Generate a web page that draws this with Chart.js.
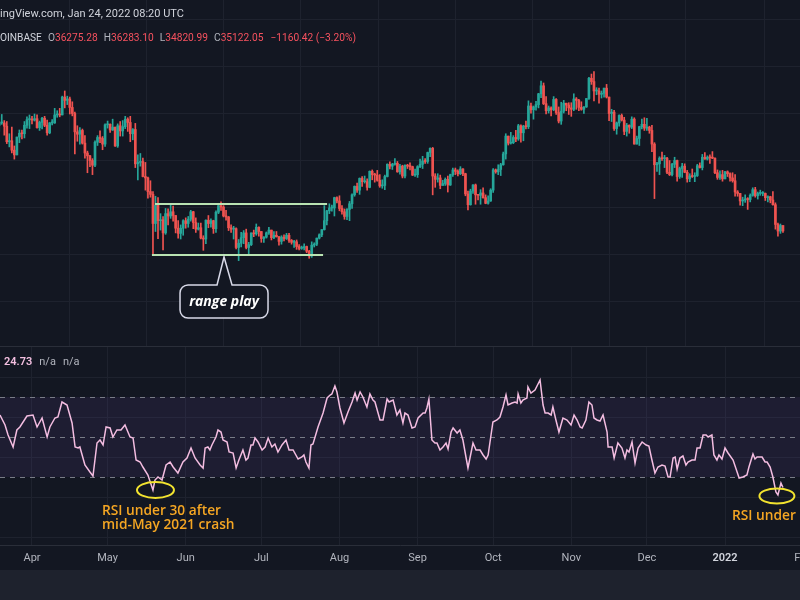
<!DOCTYPE html>
<html>
<head>
<meta charset="utf-8">
<script src="https://cdn.jsdelivr.net/npm/chart.js@4.4.1/dist/chart.umd.min.js"></script>
<style>
  html, body { margin: 0; padding: 0; width: 800px; height: 600px; overflow: hidden; background: #131722; }
  #wrap { position: relative; width: 800px; height: 600px; overflow: hidden; }
  #priceCanvas { position: absolute; left: -40px; top: 0; }
  #rsiCanvas { position: absolute; left: -40px; top: 346px; }
  #foot { position: absolute; left: 0; top: 570px; width: 800px; height: 30px; background: #1e222d; }
  .hdr { position: absolute; left: 0; white-space: nowrap; font-family: Roboto, "Noto Sans", sans-serif; font-size: 11px; color: #d1d4dc; z-index: 2; }
  .hdr.ohlc { font-size: 10.2px; }
  .hdr .k { color: #b2b5be; margin-left: 6px; }
  .hdr .v { color: #f7525f; }
  .hdr .rsi { color: #f3bfe0; font-weight: 600; }
  .hdr .na { color: #b2b5be; margin-left: 7px; }
</style>
</head>
<body>
<div id="wrap">
  <canvas id="priceCanvas" width="880" height="346"></canvas>
  <canvas id="rsiCanvas" width="880" height="224"></canvas>
  <div id="foot"></div>
  <div class="hdr" style="top:7px;">ingView.com, Jan 24, 2022 08:20 UTC</div>
  <div class="hdr ohlc" style="top:32px;">OINBASE<span class="k">O</span><span class="v">36275.28</span><span class="k">H</span><span class="v">36283.10</span><span class="k">L</span><span class="v">34820.99</span><span class="k">C</span><span class="v">35122.05</span><span class="v" style="margin-left:7px;">−1160.42 (−3.20%)</span></div>
  <div class="hdr" style="top:355px;left:4px;"><span class="rsi">24.73</span><span class="na">n/a</span><span class="na">n/a</span></div>
</div>
<script>
// daily BTC/USD candles, Mar 19 2021 .. Jan 24 2022 (prices in $ thousands)
// day 0 = Apr 1 2021
const firstDay = -13;
const firstOpen = 57.6;

const closes = [
  58.1,58.1,57.4,54.1,54.3,52.3,51.3,55.1,55.9,55.8,57.6,58.8,58.8, // Mar
  58.7,59.0,57.1,58.2,59.1,57.6,56.0,58.1,58.1,59.8,59.9,59.8,63.6,62.9,63.2,61.4,60.1,56.2,55.7,56.5,53.8,51.7,51.1,50.1,49.1,54.0,55.0,54.8,53.6,57.7, // Apr
  57.8,56.6,57.2,53.2,57.5,56.4,57.3,58.9,58.2,55.8,56.7,49.4,49.7,49.9,46.7,46.4,43.5,42.9,36.7,40.6,37.3,37.5,34.7,38.8,38.3,39.2,38.4,35.7,34.6,35.7,37.3, // May
  36.7,37.6,39.2,36.9,35.5,35.8,33.6,33.4,37.4,36.7,37.3,35.6,39.1,40.5,40.2,38.3,38.1,35.8,35.5,35.6,31.6,32.5,33.7,34.7,31.6,32.2,34.7,34.5,35.9,35.0, // Jun
  33.5,33.8,34.7,35.3,33.7,34.2,33.9,32.9,33.8,33.5,34.2,33.1,32.7,32.8,31.8,31.4,31.5,31.8,30.8,29.8,32.1,32.3,33.6,34.3,35.4,37.3,39.4,40.0,40.0,42.2,41.5, // Jul
  39.9,39.2,38.2,39.7,40.9,42.8,44.6,43.8,46.3,45.6,45.6,44.4,47.8,47.1,47.0,45.9,44.7,44.8,46.7,49.3,48.9,49.3,49.5,47.7,48.9,46.8,49.1,48.9,48.8,47.0,47.1, // Aug
  48.8,49.3,50.0,49.9,51.8,52.7,46.8,46.1,46.4,44.8,45.2,46.1,44.9,47.1,48.1,47.8,47.3,48.3,47.3,43.0,40.7,43.6,44.9,42.8,42.7,43.2,42.2,41.0,41.5,43.8, // Sep
  48.1,47.7,48.2,49.2,51.5,55.3,53.8,53.9,55.0,54.7,57.5,56.0,57.4,57.3,61.7,60.9,61.5,62.0,64.3,66.0,62.2,60.7,61.3,60.9,63.1,60.3,58.5,60.6,62.3,61.9,61.3, // Oct
  61.0,63.2,62.9,61.4,61.0,61.5,63.3,67.6,66.9,64.9,64.9,64.2,64.4,65.5,63.6,60.1,60.4,56.9,58.1,59.7,58.7,56.3,57.6,57.2,58.9,53.6,54.8,57.3,57.8,57.0, // Nov
  57.2,56.5,53.6,49.2,49.4,50.6,50.5,50.6,47.6,47.1,49.3,50.1,46.7,48.4,48.9,47.6,46.2,46.8,46.7,46.9,49.0,48.6,50.8,50.4,50.8,50.7,50.6,47.5,46.5,47.1,46.2, // Dec
  47.7,47.3,46.4,45.8,43.4,43.1,41.5,41.7,41.9,41.8,42.7,43.9,42.6,43.1,43.1,43.1,42.2,42.4,41.7,40.7,36.5,35.1,36.275,35.122 // Jan
];

const highs = [
  59.4,59.9,58.6,58.4,55.8,57.2,53.2,55.1,56.6,56.6,58.4,59.4,59.8,
  59.5,60.0,59.8,58.5,59.3,59.5,58.7,58.2,58.8,61.2,60.7,61.2,63.8,64.9,63.8,63.6,62.6,60.4,57.5,57.1,56.8,55.4,52.1,51.2,50.5,54.3,55.4,56.4,55.2,57.9,
  58.5,57.9,58.9,57.2,57.9,58.4,58.6,59.5,59.2,59.5,56.9,58.0,51.3,51.6,50.6,49.7,46.6,45.8,43.5,42.5,42.2,38.8,38.2,39.9,39.8,40.8,40.4,38.2,37.3,36.4,37.5,
  37.9,38.2,39.5,39.3,37.9,36.8,36.8,34.1,37.5,38.4,37.7,37.4,39.4,41.0,41.3,40.5,39.5,38.2,36.4,36.1,35.8,33.3,34.8,35.2,35.5,32.7,34.7,35.3,36.6,36.0,
  35.0,33.9,34.9,35.9,35.3,35.0,35.0,33.9,34.1,34.3,34.6,34.6,33.3,33.1,33.2,32.2,31.9,32.4,31.9,31.0,32.8,32.6,33.6,34.5,35.4,40.5,39.5,40.9,40.6,42.3,42.4,
  42.6,40.5,39.8,39.9,41.4,43.0,44.7,45.3,46.4,46.7,46.8,46.2,47.9,48.1,47.4,48.0,47.1,46.0,47.0,49.4,49.8,49.5,50.5,49.9,49.3,49.1,49.2,49.3,49.6,48.9,48.3,
  49.0,50.4,51.0,50.5,51.9,52.8,52.9,47.3,47.3,47.0,45.9,46.4,46.8,47.2,48.5,48.5,48.1,48.8,48.4,47.4,43.6,44.0,45.0,45.1,42.9,43.9,44.3,42.8,42.6,44.1,
  48.4,48.3,49.2,49.5,51.9,55.8,55.3,56.1,55.4,56.5,57.8,57.7,57.6,58.5,62.8,62.3,61.7,62.7,64.4,67.0,66.6,63.7,61.7,61.5,63.7,63.3,61.5,62.5,62.9,62.3,62.4,
  62.4,64.3,63.5,63.1,62.6,61.6,63.3,67.8,68.5,69.0,65.6,65.5,64.9,65.5,66.3,63.6,61.0,60.8,58.3,59.8,60.0,59.3,58.0,57.7,59.4,59.2,55.3,57.4,58.9,59.2,
  59.1,57.4,57.6,53.9,49.7,50.9,51.9,51.2,50.8,50.1,49.5,50.8,50.2,48.7,49.5,49.4,48.0,47.3,48.3,47.5,49.3,49.6,51.4,51.8,51.1,51.3,52.0,50.7,48.1,47.9,48.0,
  47.8,47.9,47.5,47.5,47.1,43.7,43.1,42.3,42.8,42.2,43.0,44.3,44.4,43.4,43.8,43.5,43.2,42.6,42.5,43.5,41.1,36.8,36.6,36.283
];

const lows = [
  56.3,57.8,55.5,53.7,53.0,51.7,50.4,51.3,53.9,54.7,54.9,57.0,56.9,
  57.9,58.5,57.0,56.5,56.8,57.3,55.5,55.8,57.7,58.0,59.3,59.4,59.8,61.3,62.0,60.0,59.6,51.5,54.2,53.6,53.6,50.6,47.5,48.8,47.1,48.8,53.3,53.9,52.4,53.1,
  57.0,56.1,56.5,53.1,52.9,55.3,55.3,56.9,56.3,54.1,54.5,48.6,46.0,48.9,46.6,43.8,42.1,42.3,30.0,35.0,33.5,35.3,31.1,34.4,36.4,37.8,37.2,34.7,33.6,33.4,34.2,
  35.7,35.9,37.2,35.6,34.8,35.3,33.4,31.0,32.4,35.8,35.9,34.6,34.8,38.8,39.5,38.1,37.4,35.2,34.8,33.4,31.3,28.8,31.7,32.4,31.3,30.2,32.0,33.9,34.2,34.0,
  32.7,32.7,33.6,34.4,33.2,33.5,33.8,32.1,32.3,33.0,33.3,32.7,32.3,31.6,31.2,31.1,31.2,31.1,30.5,29.3,29.5,31.7,32.0,33.4,33.9,35.3,36.4,38.8,39.3,38.3,41.1,
  39.4,38.7,37.6,37.5,37.3,39.9,42.5,43.3,42.9,44.6,45.3,43.8,44.3,46.0,45.5,45.7,44.4,44.2,43.9,46.6,48.3,48.2,49.1,47.6,47.2,46.4,46.4,48.4,48.1,46.9,46.7,
  46.5,48.6,48.4,49.5,49.5,50.9,42.8,44.4,45.5,44.1,44.8,44.8,43.4,44.8,46.7,47.1,46.8,47.1,46.9,42.6,39.6,40.6,43.1,40.8,41.7,40.8,42.1,40.9,40.8,41.4,
  43.3,47.4,47.1,46.9,49.1,50.4,53.4,53.6,53.7,54.1,54.4,54.0,54.3,56.8,56.9,60.2,58.9,60.8,61.3,63.5,62.0,60.0,60.2,59.6,60.7,59.9,58.1,57.8,60.2,60.7,59.9,
  59.5,60.7,61.0,60.7,60.8,60.1,61.4,63.1,66.3,62.8,64.1,62.3,63.4,63.6,63.4,58.6,58.4,56.5,55.7,57.4,58.5,55.6,55.3,55.9,56.9,53.6,53.7,53.3,56.8,56.5,
  56.5,55.9,52.0,42.0,47.8,47.1,50.1,48.6,47.3,46.9,46.8,48.6,45.7,46.3,46.5,47.5,45.5,45.6,46.5,45.6,46.7,48.5,48.1,50.4,50.2,49.5,50.5,47.3,46.1,46.1,45.7,
  46.2,46.7,45.7,45.5,42.5,42.5,40.6,40.5,41.2,39.7,41.3,42.5,42.3,41.9,42.7,42.6,41.6,41.3,41.1,40.6,35.5,34.0,34.6,34.821
];

// RSI(14): day offset (from Apr 1 2021) and value
const rsiDays = [
  -12.7,-10.7,-9.5,-7.5,-6.0,-4.8,-2.0,0.4,2.0,4.0,6.0,7.1,9.1,10.3,11.9,13.9,15.9,17.1,18.3,19.0,
  21.0,23.0,24.2,25.8,27.0,28.2,29.4,31.0,32.1,33.7,35.3,36.9,38.9,40.1,41.3,42.9,44.0,46.0,48.0,48.8,
  50.0,51.6,53.2,54.8,56.0,57.9,59.9,61.5,63.1,64.7,66.7,67.9,68.7,69.8,70.6,71.4,73.0,73.8,75.0,75.8,
  77.4,78.2,79.8,81.0,82.1,83.7,84.9,85.7,86.9,87.7,88.5,89.7,91.3,92.5,93.7,95.2,96.4,97.6,99.2,100.8,
  102.0,103.6,105.6,107.1,107.9,108.7,109.9,110.7,111.5,113.5,115.5,117.1,118.3,119.0,120.2,121.0,122.2,123.8,125.4,127.0,
  128.2,129.0,130.2,131.3,132.9,134.1,135.3,136.1,138.1,139.3,140.9,141.7,143.3,144.8,146.0,147.2,148.0,149.2,150.8,152.0,
  153.2,155.2,156.0,156.7,157.5,158.7,159.9,160.7,161.9,163.1,164.3,165.1,166.3,167.1,168.7,169.8,171.0,172.2,173.0,174.2,
  175.0,176.2,177.8,179.0,180.2,181.0,182.9,184.5,185.7,186.9,188.1,188.9,190.5,191.7,192.5,192.9,194.0,194.8,196.4,196.8,
  198.0,199.6,201.6,202.8,203.6,204.8,206.0,206.7,207.9,209.1,210.7,212.3,213.9,215.1,216.3,217.5,218.3,219.8,221.0,222.2,
  223.0,224.2,225.4,226.6,228.2,228.6,230.2,231.0,232.5,234.1,235.3,236.1,236.9,238.1,239.3,240.5,242.1,243.7,244.8,246.0,
  247.2,248.4,250.0,251.2,252.4,253.2,254.4,255.2,256.0,257.1,258.3,259.5,260.3,261.9,263.1,263.9,265.1,266.3,267.5,268.3,
  269.8,270.6,271.8,272.6,273.8,275.0,276.2,278.2,279.8,280.6,282.1,283.7,284.5,286.1,286.9,287.7,289.7,290.9,291.7,292.9,
  294.0,295.2,296.0,297.2,298.0
];
const rsiValues = [
  61,56,51,45,53.5,55,60.5,61,55,59.5,50,55,59.5,60,67.5,66,57,45,44.5,45,
  36,32.5,30.5,47,48.5,46,55,54.5,50,53.5,53.5,56,50,49.5,38.5,37.5,35,31,23.5,28.5,
  30,28.5,36,37.5,35,32,37.5,39.5,44.5,39.5,36,34.5,44.5,45,43.5,46,50,53.5,52.5,48.5,
  47.5,42.5,42,34.5,38.5,43.5,38.5,39.5,46,46,49.5,47.5,43.5,45,49.5,45,46.5,42.5,46,48.5,
  43.5,43.5,39,40,41,37.5,34.5,46,46.5,55,62,69.5,71,71.5,75.5,72.5,64.5,57,62.5,67.5,
  72,68.5,72.5,70,65,71.5,68.5,67.5,58.5,58.5,69,67.5,68.5,61,63.5,57,62,61,54.5,55,
  59.5,62,62,64.5,69,48.5,47,47,43.5,45,47,44,52.5,54.5,52,53.5,48.5,40,34.5,42,
  47,43.5,43.5,41,39,41,57.5,58.5,60,65,71,66,67,67.5,67,71.5,67,68.5,69.5,75,
  72,73.5,78.5,66,62,62,61,65,58.5,52.5,59.5,58.5,56,61,58.5,55,54.5,58.5,67.5,66,
  59.5,58.5,58,61,52.5,45,45,39.5,47,44.5,39.5,43.5,42.5,47.5,37,44.5,47.5,46,45.5,38.5,
  32,35,36,35.5,30,30,39.5,40,34,39.5,40.5,36,37.5,38.5,38.5,44.5,44.5,51,51,50,
  51,41,38.5,41,39,44.5,42,38.5,32.5,29.5,30,31,35,41.5,39,40,40,37.5,37.5,35,
  30,22.5,21,27,24.73
];

// x axis: month starts (day offsets) and their labels
const monthTicks = [0, 30, 61, 91, 122, 153, 183, 214, 244, 275, 306];
const monthLabels = ['Apr', 'May', 'Jun', 'Jul', 'Aug', 'Sep', 'Oct', 'Nov', 'Dec', '2022', 'Feb'];
const priceGrid = [20, 30, 40, 50, 60, 70, 80];
const rsiGrid = [0, 20, 40, 60, 80];
const rsiLevels = [70, 50, 30];

// "range play" box (day offsets / $k)
const rangeHigh = 40.85, rangeLow = 30.0;
const rangeTopFrom = 48.8, rangeTopTo = 117.1;
const rangeLowFrom = 47.6, rangeLowTo = 115.5;
const calloutDay = 76.2;

const xMin = -28.57, xMax = 320.63;
const priceMin = 10.638, priceMax = 84.255;

const upColor = '#26a69a';
const downColor = '#ef5350';
const gridColor = '#1e222e';

// build candles
const wickData = [], bodyData = [], candleColors = [];
closes.forEach((c, i) => {
    const o = i === 0 ? firstOpen : closes[i - 1];
    const d = firstDay + i;
    wickData.push({ x: d, y: [Math.min(lows[i], o, c), Math.max(highs[i], o, c)] });
    bodyData.push({ x: d, y: [o, c] });
    candleColors.push(c >= o ? upColor : downColor);
});

function monthAxis(showLabels) {
    return {
        type: 'linear',
        min: xMin,
        max: xMax,
        offset: false,
        grid: { color: gridColor, drawTicks: false },
        border: showLabels ? { display: true, color: '#2a2e39' } : { display: false },
        afterBuildTicks: s => { s.ticks = monthTicks.map(v => ({ value: v })); },
        ticks: showLabels ? {
            display: true,
            autoSkip: false,
            maxRotation: 0,
            padding: 7,
            font: ctx => ({ family: 'Roboto', size: 11, weight: ctx.tick && ctx.tick.value === 275 ? '600' : '400' }),
            color: ctx => ctx.tick && ctx.tick.value === 275 ? '#d1d4dc' : '#b2b5be',
            callback: v => monthLabels[monthTicks.indexOf(v)]
        } : { display: false },
        afterFit: s => { s.height = showLabels ? 25 : 0; }
    };
}

// Range play annotation
const rangePlugin = {
    id: 'rangePlay',
    afterDatasetsDraw(chart) {
        const { ctx, scales: { x, y } } = chart;
        ctx.save();
        ctx.strokeStyle = '#b9e3b2';
        ctx.lineWidth = 2;
        ctx.beginPath();
        ctx.moveTo(x.getPixelForValue(rangeTopFrom), y.getPixelForValue(rangeHigh));
        ctx.lineTo(x.getPixelForValue(rangeTopTo), y.getPixelForValue(rangeHigh));
        ctx.moveTo(x.getPixelForValue(rangeLowFrom), y.getPixelForValue(rangeLow));
        ctx.lineTo(x.getPixelForValue(rangeLowTo), y.getPixelForValue(rangeLow));
        ctx.stroke();

        const tipX = x.getPixelForValue(calloutDay);
        const tipY = y.getPixelForValue(rangeLow) + 2;
        const bw = 88, bh = 33, r = 8;
        const bx = tipX - bw / 2, by = tipY + 28;
        ctx.beginPath();
        ctx.moveTo(bx + r, by);
        ctx.lineTo(tipX - 7, by);
        ctx.lineTo(tipX, tipY);
        ctx.lineTo(tipX + 8, by);
        ctx.lineTo(bx + bw - r, by);
        ctx.arcTo(bx + bw, by, bx + bw, by + r, r);
        ctx.lineTo(bx + bw, by + bh - r);
        ctx.arcTo(bx + bw, by + bh, bx + bw - r, by + bh, r);
        ctx.lineTo(bx + r, by + bh);
        ctx.arcTo(bx, by + bh, bx, by + bh - r, r);
        ctx.lineTo(bx, by + r);
        ctx.arcTo(bx, by, bx + r, by, r);
        ctx.closePath();
        ctx.fillStyle = '#131722';
        ctx.fill();
        ctx.strokeStyle = '#d8d9e8';
        ctx.lineWidth = 1.5;
        ctx.stroke();

        ctx.fillStyle = '#ffffff';
        ctx.font = 'italic bold 14px "Open Sans"';
        ctx.textAlign = 'center';
        ctx.textBaseline = 'middle';
        ctx.fillText('range play', tipX, by + bh / 2 + 1, 70);
        ctx.restore();
    }
};

// RSI band, levels and notes
const rsiPlugin = {
    id: 'rsiBand',
    beforeDatasetsDraw(chart) {
        const { ctx, chartArea: a, scales: { y } } = chart;
        ctx.save();
        const top = y.getPixelForValue(70), bottom = y.getPixelForValue(30);
        ctx.fillStyle = 'rgba(126, 87, 194, 0.1)';
        ctx.fillRect(a.left, top, a.right - a.left, bottom - top);
        ctx.strokeStyle = '#787b86';
        ctx.lineWidth = 1;
        ctx.setLineDash([5, 5]);
        rsiLevels.forEach(level => {
            const py = Math.round(y.getPixelForValue(level)) + 0.5;
            ctx.beginPath();
            ctx.moveTo(a.left, py);
            ctx.lineTo(a.right, py);
            ctx.stroke();
        });
        ctx.setLineDash([]);
        ctx.strokeStyle = '#2a2e39';
        ctx.beginPath();
        ctx.moveTo(a.left, 0.5);
        ctx.lineTo(a.right, 0.5);
        ctx.stroke();
        ctx.restore();
    },
    afterDatasetsDraw(chart) {
        const { ctx, scales: { x, y } } = chart;
        ctx.save();
        const e1x = x.getPixelForValue(49.0), e1y = y.getPixelForValue(23.5);
        const e2x = x.getPixelForValue(295.6), e2y = y.getPixelForValue(20.5);
        ctx.strokeStyle = '#f2e32f';
        ctx.lineWidth = 2;
        ctx.beginPath();
        ctx.ellipse(e1x, e1y, 18.5, 8, 0, 0, Math.PI * 2);
        ctx.stroke();
        ctx.beginPath();
        ctx.ellipse(e2x, e2y, 17.5, 7.5, 0, 0, Math.PI * 2);
        ctx.stroke();

        ctx.fillStyle = '#f5a623';
        ctx.font = '600 15px "Open Sans"';
        ctx.textAlign = 'left';
        ctx.textBaseline = 'middle';
        const k = 119 / ctx.measureText('RSI under 30 after').width;
        const note = (text, px, py) => {
            ctx.save();
            ctx.translate(px, py);
            ctx.scale(k, 1);
            ctx.fillText(text, 0, 0);
            ctx.restore();
        };
        note('RSI under 30 after', e1x - 53.5, e1y + 21);
        note('mid-May 2021 crash', e1x - 53.5, e1y + 35);
        note('RSI under 30', e2x - 45, e2y + 20);
        ctx.restore();
    }
};

new Chart(document.getElementById('priceCanvas'), {
    type: 'bar',
    data: {
        datasets: [
            { data: wickData, backgroundColor: candleColors, barThickness: 1, grouped: false, order: 2 },
            { data: bodyData, backgroundColor: candleColors, barThickness: 2, grouped: false, minBarLength: 1, order: 1 }
        ]
    },
    options: {
        responsive: false,
        animation: false,
        layout: { padding: 0 },
        plugins: { legend: { display: false }, tooltip: { enabled: false } },
        scales: {
            x: monthAxis(false),
            y: {
                min: priceMin,
                max: priceMax,
                grid: { color: gridColor, drawTicks: false },
                border: { display: false },
                ticks: { display: false },
                afterBuildTicks: s => { s.ticks = priceGrid.map(v => ({ value: v })); },
                afterFit: s => { s.width = 0; }
            }
        }
    },
    plugins: [rangePlugin]
});

new Chart(document.getElementById('rsiCanvas'), {
    type: 'line',
    data: {
        datasets: [{
            data: rsiDays.map((d, i) => ({ x: d, y: rsiValues[i] })),
            borderColor: '#f4bde1',
            borderWidth: 1.5,
            pointRadius: 0,
            tension: 0
        }]
    },
    options: {
        responsive: false,
        animation: false,
        layout: { padding: 0 },
        plugins: { legend: { display: false }, tooltip: { enabled: false } },
        scales: {
            x: monthAxis(true),
            y: {
                min: -4,
                max: 95.5,
                grid: { color: gridColor, drawTicks: false },
                border: { display: false },
                ticks: { display: false },
                afterBuildTicks: s => { s.ticks = rsiGrid.map(v => ({ value: v })); },
                afterFit: s => { s.width = 0; }
            }
        }
    },
    plugins: [rsiPlugin]
});
</script>
</body>
</html>
